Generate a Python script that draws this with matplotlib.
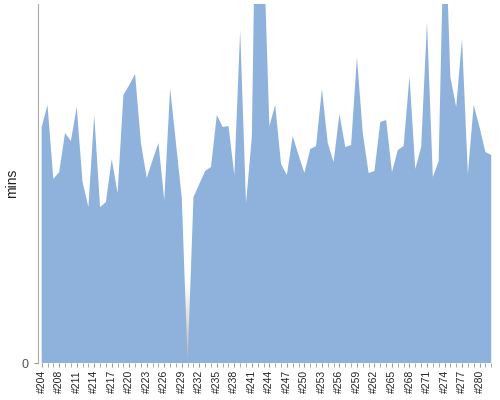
import numpy as np
import matplotlib
matplotlib.use('Agg')
import matplotlib.pyplot as plt
from matplotlib.colors import LinearSegmentedColormap

# build numbers (one build, #206, is missing from the history)
builds = [204, 205, 207] + list(range(208, 283))

# build duration in minutes
durations = [
    23.6, 25.8, 18.4, 19.1, 23.0, 22.2, 25.6, 18.1, 15.6, 24.8,
    15.6, 16.1, 20.4, 17.0, 26.8, 27.8, 28.9, 22.0, 18.5, 20.3,
    22.0, 16.3, 27.5, 22.0, 16.5, 0.0, 16.6, 17.9, 19.2, 19.6,
    24.8, 23.6, 23.7, 18.8, 33.3, 16.0, 22.6, 61.3, 42.3, 23.7,
    25.8, 19.9, 18.8, 22.7, 20.8, 19.0, 21.4, 21.7, 27.4, 22.0,
    20.1, 24.9, 21.6, 21.8, 30.6, 23.0, 19.0, 19.2, 24.1, 24.3,
    19.1, 21.3, 21.7, 28.7, 19.4, 21.6, 34.1, 18.6, 20.2, 46.3,
    28.6, 25.6, 32.4, 18.9, 25.8, 23.6, 21.1, 20.8,
]

labels = ['#%d' % b for b in builds]
x = np.arange(len(builds))
y = np.array(durations)

plt.rcParams['font.family'] = ['Liberation Sans', 'DejaVu Sans']

fig = plt.figure(figsize=(5, 4), dpi=100)
ax = fig.add_axes([0.076, 0.0925, 0.907, 0.8975])

# grey marker behind the failed (zero length) build
cmap = LinearSegmentedColormap.from_list('fail', ['#ffffff', '#b4b4b4'])
for i in x[y == 0]:
    grad = np.linspace(0, 1, 64).reshape(-1, 1)
    ax.imshow(grad, cmap=cmap, aspect='auto', origin='upper',
              extent=[i - 0.5, i + 0.5, 0, 8], zorder=0)

ax.fill_between(x, 0, y, color='#8fb2dc', linewidth=0, zorder=1)

ax.set_xlim(-0.63, len(builds) - 0.95)
ax.set_ylim(0, 35.9)

ax.set_xticks(x, minor=True)
ax.set_xticks(x[::3])
ax.set_xticklabels(labels[::3], rotation=90, fontsize=7.5, color='#222222')
ax.set_yticks([0])
ax.set_yticklabels(['0'], fontsize=9, color='#555555')
ax.tick_params(axis='x', which='both', length=3, color='#999999', pad=2)
ax.tick_params(axis='y', length=3, color='#999999', pad=4)
ax.set_ylabel('mins', fontsize=10, color='#222222')
ax.yaxis.set_label_coords(-0.042, 0.5)

for s in ['top', 'right', 'bottom']:
    ax.spines[s].set_visible(False)
ax.spines['left'].set_color('#aaaaaa')

fig.savefig('out.png', dpi=100)
